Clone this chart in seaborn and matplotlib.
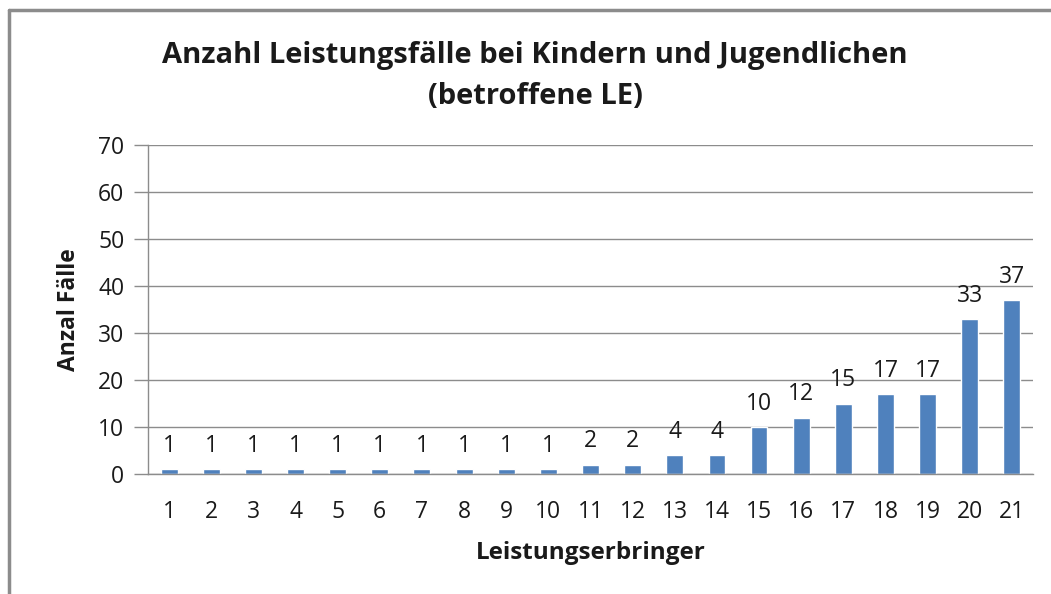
import matplotlib
matplotlib.use("Agg")
import matplotlib.pyplot as plt
import seaborn as sns
import pandas as pd
from matplotlib.lines import Line2D

categories = [str(i) for i in range(1, 22)]
values = [1, 1, 1, 1, 1, 1, 1, 1, 1, 1, 2, 2, 4, 4, 10, 12, 15, 17, 17, 33, 37]
yticks = [0, 10, 20, 30, 40, 50, 60, 70]

sns.set_theme(style="white")
plt.rcParams['font.family'] = ['Open Sans', 'DejaVu Sans']

df = pd.DataFrame({"cat": categories, "val": values})

fig = plt.figure(figsize=(10.51, 5.94), dpi=100)
ax = fig.add_axes([148/1051, 1-474/594, (1033-148)/1051, (474-145)/594])

sns.barplot(data=df, x="cat", y="val", color="#4F81BD", width=0.4,
            saturation=1, ax=ax, order=categories)

grid_c = "#8C8C8C"
txt_c = "#1a1a1a"
ax.set_ylim(0, 70)
ax.set_yticks(yticks)
ax.set_yticklabels([str(t) for t in yticks], fontsize=16.5, color=txt_c)
ax.yaxis.grid(True, color=grid_c, linewidth=1)
ax.set_axisbelow(True)
ax.tick_params(axis="y", length=10, width=1, color=grid_c, direction="out", pad=7, left=True)
ax.tick_params(axis="x", length=0, pad=19, labelsize=16.5, labelcolor=txt_c)
for s in ["top", "right"]:
    ax.spines[s].set_visible(False)
ax.spines["left"].set_color(grid_c)
ax.spines["bottom"].set_color(grid_c)
ax.spines["left"].set_linewidth(1)
ax.spines["bottom"].set_linewidth(1)
ax.set_xlim(-0.5, len(categories) - 0.5)

for c in ax.containers:
    ax.bar_label(c, labels=[str(v) for v in values], fontsize=16.5, padding=8, color=txt_c)

ax.set_xlabel("Leistungserbringer", fontsize=17.5, fontweight="bold", labelpad=12, color=txt_c)
ax.set_ylabel("Anzal Fälle", fontsize=16.5, fontweight="bold", labelpad=12, color=txt_c)

fig.text(535/1051, 1-76/594, "Anzahl Leistungsfälle bei Kindern und Jugendlichen\n(betroffene LE)",
         ha="center", va="center", fontsize=21, fontweight="bold", linespacing=1.5, color=txt_c)

# outer chart border (top and left visible)
fig.add_artist(Line2D([9/1051, 9/1051], [0, 1-10/594], color="#8C8C8C", linewidth=2.5,
                      transform=fig.transFigure))
fig.add_artist(Line2D([9/1051, 1], [1-10/594, 1-10/594], color="#8C8C8C", linewidth=2.5,
                      transform=fig.transFigure))

fig.savefig("out.png", dpi=100)
